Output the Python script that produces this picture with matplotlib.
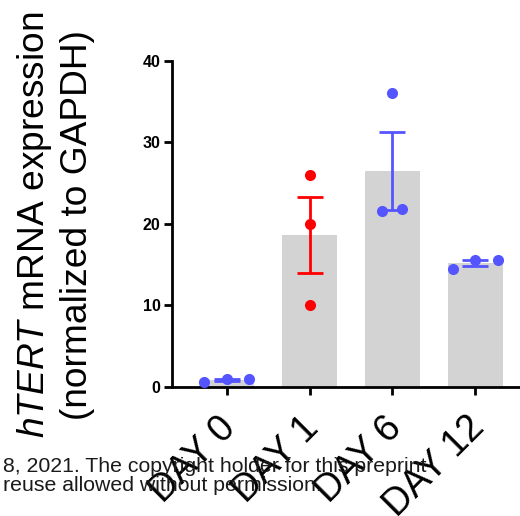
import numpy as np
import matplotlib
matplotlib.use("Agg")
import matplotlib.pyplot as plt

plt.rcParams["font.family"] = ["Liberation Sans", "DejaVu Sans"]
plt.rcParams["mathtext.fontset"] = "custom"
plt.rcParams["mathtext.rm"] = "Liberation Sans"
plt.rcParams["mathtext.it"] = "Liberation Sans:italic"

# Data: hTERT expression per replicate
categories = ["DAY 0", "DAY 1", "DAY 6", "DAY 12"]
replicates = [
    [0.55, 0.95, 0.9],
    [26.0, 20.0, 10.0],
    [36.0, 21.5, 21.8],
    [14.4, 15.6, 15.6],
]
point_offsets = [
    [-0.27, 0.0, 0.27],
    [0.0, 0.0, 0.0],
    [0.0, -0.12, 0.12],
    [-0.27, 0.0, 0.28],
]
group_colors = ["#5555ff", "#ff0000", "#5555ff", "#5555ff"]
yticks = [0, 10, 20, 30, 40]

W, H = 520, 516
fig = plt.figure(figsize=(W / 100, H / 100), dpi=100)
ax = fig.add_axes([171.7 / W, 1 - 386.7 / H, (W - 171.7) / W, (386.7 - 60.7) / H])

x = np.arange(len(categories))
means = [np.mean(r) for r in replicates]
sems = [np.std(r, ddof=1) / np.sqrt(len(r)) for r in replicates]

ax.bar(x, means, width=0.67, color="#d3d3d3", zorder=1)
for i, (vals, offs, c) in enumerate(zip(replicates, point_offsets, group_colors)):
    ax.errorbar(i, means[i], yerr=sems[i], color=c, capsize=9.7, capthick=2,
                elinewidth=2, fmt="none", zorder=3)
    ax.plot(i + np.array(offs), vals, "o", color=c, markersize=8,
            markeredgewidth=0, zorder=4, clip_on=False)

ax.set_xlim(-0.664, 3.54)
ax.set_ylim(0, 40)
ax.set_yticks(yticks)
ax.set_yticklabels([str(t) for t in yticks], fontsize=11.5, fontweight="bold")
ax.set_xticks(x)
ax.set_xticklabels([])

# Rotated category labels, anchored at their top-right corner below each tick
xform = ax.get_xaxis_transform()
for xi, name in zip(x, categories):
    ax.annotate(name, xy=(xi, 0), xycoords=xform, xytext=(-6.5, -16.5),
                textcoords="offset points", fontsize=27, rotation=45,
                ha="right", va="top", rotation_mode="anchor",
                annotation_clip=False)

for side in ["top", "right"]:
    ax.spines[side].set_visible(False)
for side in ["left", "bottom"]:
    ax.spines[side].set_linewidth(2)
ax.tick_params(axis="both", width=2, length=6)
ax.tick_params(axis="y", pad=2)

fig.text(55 / W, 1 - 225 / H,
         "$\\it{hTERT}$ mRNA expression\n(normalized to GAPDH)",
         rotation=90, ha="center", va="center", fontsize=26.7,
         multialignment="center", linespacing=1.22)

fig.text(3 / W, 1 - 472 / H, "8, 2021. The copyright holder for this preprint",
         fontsize=15.3, color="#1a1a1a", ha="left", va="baseline")
fig.text(3 / W, 1 - 491 / H, "reuse allowed without permission.",
         fontsize=15.3, color="#1a1a1a", ha="left", va="baseline")

fig.savefig("out.png", dpi=100)
